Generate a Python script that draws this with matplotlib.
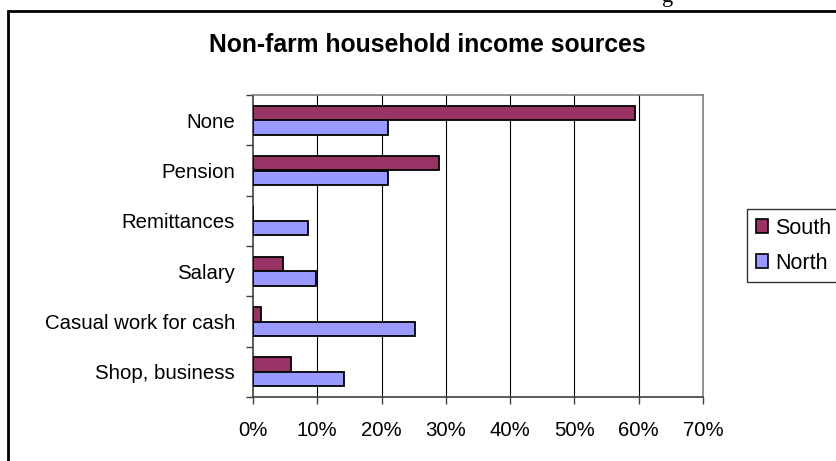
import numpy as np
import matplotlib.pyplot as plt
from matplotlib.patches import Rectangle, Patch
from matplotlib.ticker import FixedLocator, PercentFormatter

plt.rcParams['font.family'] = ['Liberation Sans', 'DejaVu Sans']

categories = ["None", "Pension", "Remittances", "Salary",
              "Casual work for cash", "Shop, business"]
south = [59.4, 29.0, 0.0, 4.7, 1.3, 5.9]
north = [21.0, 21.0, 8.5, 9.8, 25.2, 14.1]
series_names = ["South", "North"]
x_ticks = [0, 10, 20, 30, 40, 50, 60, 70]

SOUTH_COLOR = "#993366"
NORTH_COLOR = "#9999FF"

W, H = 837, 461
fig = plt.figure(figsize=(W / 100, H / 100), dpi=100)

# outer frame of the chart object, running off the right and bottom edges
fig.patches.append(Rectangle((8 / W, -0.2), 1.5, 1 - 11 / H + 0.2,
                             transform=fig.transFigure, fill=False,
                             edgecolor="black", linewidth=2.0))

ax = fig.add_axes([253 / W, 1 - 397 / H, 450 / W, 302 / H])

y = np.arange(len(categories))
bar_h = 0.29
ax.barh(y - bar_h / 2, south, height=bar_h, color=SOUTH_COLOR,
        edgecolor="black", linewidth=1.3, zorder=3)
ax.barh(y + bar_h / 2, north, height=bar_h, color=NORTH_COLOR,
        edgecolor="black", linewidth=1.3, zorder=3)

ax.set_xlim(0, 70)
ax.set_ylim(len(categories) - 0.5, -0.5)

ax.set_xticks(x_ticks)
ax.xaxis.set_major_formatter(PercentFormatter(decimals=0))
ax.tick_params(axis="x", direction="out", length=5, width=1,
               color="#404040", labelsize=14.7, pad=12)

ax.set_yticks(y)
ax.set_yticklabels(categories)
ax.yaxis.set_minor_locator(FixedLocator(np.arange(len(categories) + 1) - 0.5))
ax.tick_params(axis="y", which="major", length=0, labelsize=14.7, pad=13)
ax.tick_params(axis="y", which="minor", direction="out", length=5,
               width=1, color="#404040")

for v in x_ticks[1:-1]:
    ax.axvline(v, color="black", linewidth=0.8, zorder=1)

for side in ("left", "bottom"):
    ax.spines[side].set_color("#404040")
    ax.spines[side].set_linewidth(1.2)
for side in ("top", "right"):
    ax.spines[side].set_color("#808080")
    ax.spines[side].set_linewidth(1.2)

fig.text(427 / W, 1 - 45 / H, "Non-farm household income sources",
         ha="center", va="center", fontsize=17.8, fontweight="bold")

# legend box is wider than the canvas, so its right side gets cut off
handles = [Patch(facecolor=SOUTH_COLOR, edgecolor="black", linewidth=1.2),
           Patch(facecolor=NORTH_COLOR, edgecolor="black", linewidth=1.2)]
leg = fig.legend(handles, series_names, loc="upper left",
                 bbox_to_anchor=(747 / W, 1 - 282 / H, 100 / W, 73 / H),
                 mode="expand", fontsize=15.5,
                 frameon=True, fancybox=False, shadow=False,
                 handlelength=0.56, handleheight=0.56, handletextpad=0.33,
                 borderpad=0.4, labelspacing=0.65, borderaxespad=0)
leg.get_frame().set_edgecolor("black")
leg.get_frame().set_linewidth(1.0)

# tail of a caption line from the page above
fig.text(668 / W, 1 - 2 / H, "g", ha="center", va="baseline",
         fontsize=16, family="Liberation Serif")

fig.savefig("out.png", dpi=100)
